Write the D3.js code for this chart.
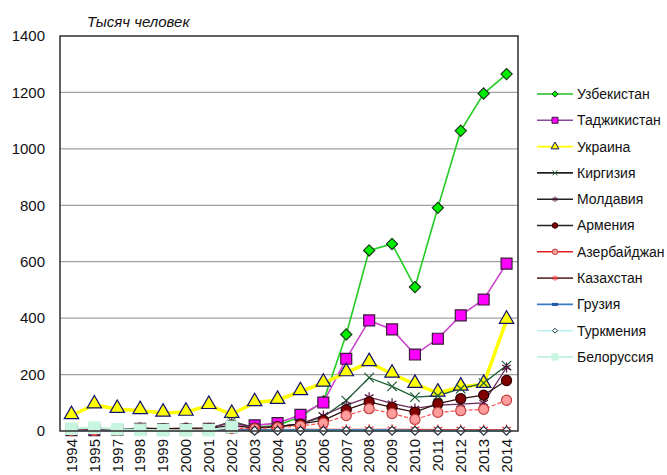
<!DOCTYPE html>
<html lang="ru">
<head>
    <meta charset="UTF-8">
    <title>Тысяч человек</title>
    <style>
        html, body {
            margin: 0;
            padding: 0;
            background-color: #fff;
            font-family: Arial, 'Liberation Sans', sans-serif;
        }
    </style>
</head>
<body>
    <div id="chart"></div>
    <script src="https://d3js.org/d3.v7.min.js"></script>
    <script>
        // DATA
        const years = ["1994", "1995", "1997", "1998", "1999", "2000", "2001", "2002", "2003", "2004",
                       "2005", "2006", "2007", "2008", "2009", "2010", "2011", "2012", "2013", "2014"];
        const yTicks = [0, 200, 400, 600, 800, 1000, 1200, 1400];
        const seriesNames = ["Узбекистан", "Таджикистан", "Украина", "Киргизия", "Молдавия", "Армения",
                             "Азербайджан", "Казахстан", "Грузия", "Туркмения", "Белоруссия"];

        const uzbekistan = [null, null, null, null, null, null, null, null, 12, 20, 50, 105, 342, 640, 663, 510, 791, 1064, 1196, 1265];
        const tajikistan = [3, 3, 4, 8, 6, 5, 8, 14, 20, 28, 57, 101, 256, 392, 360, 271, 327, 410, 466, 593];
        const ukraine = [55, 93, 77, 73, 64, 67, 91, 59, 101, 109, 140, 170, 207, 243, 202, 166, 135, 156, 166, 393];
        const kyrgyzstan = [4, 5, 4, 6, 5, 6, 8, 35, 12, 15, 25, 50, 108, 189, 158, 120, 125, 150, 170, 232];
        const moldova = [3, 4, 5, 10, 7, 8, 10, 30, 12, 15, 25, 55, 92, 120, 98, 80, 92, 95, 100, 225];
        const armenia = [5, 4, 6, 10, 8, 10, 9, 20, 10, 15, 25, 38, 75, 103, 84, 67, 97, 115, 127, 179];
        const azerbaijan = [2, 2, 3, 4, 4, 5, 6, 10, 8, 12, 18, 28, 55, 79, 62, 41, 66, 72, 77, 109];
        const kazakhstan = [3, 3, 3, 4, 4, 4, 5, 6, 5, 5, 6, 6, 6, 6, 6, 6, 5, 5, 5, 5];
        const georgia = [2, 2, 2, 2, 2, 2, 2, 3, 3, 3, 3, 3, 3, 3, 3, 2, null, null, null, null];
        const turkmenia = [null, null, null, null, null, null, null, null, 1, 1, 1, 1, 1, 1, 1, 1, 1, 1, 1, 1];
        const belorussia = [8, 12, 6, 4, 3, 3, 3, 15, null, null, null, null, null, null, null, null, null, null, null, null];

        const seriesValues = [uzbekistan, tajikistan, ukraine, kyrgyzstan, moldova, armenia,
                              azerbaijan, kazakhstan, georgia, turkmenia, belorussia];

        // LOOK OF EACH SERIES
        const diamond = d3.symbolDiamond2 || d3.symbolDiamond;
        const styles = [
            {line: "#22cc22", width: 1.6, symbol: diamond, size: 80, fill: "#00ee00", stroke: "#1a3a1a", legLine: "#22bb22"},
            {line: "#cc44cc", width: 1.6, symbol: d3.symbolSquare, size: 120, fill: "#ff00ff", stroke: "#3a1a3a", legLine: "#8a4a9a"},
            {line: "#ffff00", width: 3.5, symbol: d3.symbolTriangle, size: 90, fill: "#ffff00", stroke: "#101070", legLine: "#ffff00"},
            {line: "#1e5e36", width: 1.3, symbol: d3.symbolX, size: 60, fill: "none", stroke: "#1e5e36", legLine: "#222"},
            {line: "#6a2a5a", width: 1.3, symbol: d3.symbolAsterisk, size: 70, fill: "none", stroke: "#5a1040", legLine: "#222"},
            {line: "#301010", width: 1.3, symbol: d3.symbolCircle, size: 80, fill: "#800000", stroke: "#300000", legLine: "#222"},
            {line: "#ff5050", width: 1.2, dash: "4,2", symbol: d3.symbolCircle, size: 80, fill: "#ff9c9c", stroke: "#c04040", legLine: "#e02020"},
            {line: "#ee2020", width: 1.3, symbol: d3.symbolAsterisk, size: 70, fill: "none", stroke: "#ff3030", legLine: "#6a3a3a"},
            {line: "#2a7ac8", width: 1.6, symbol: null, size: 0, fill: "none", stroke: "#2a7ac8", legLine: "#3a7ac8"},
            {line: "#30c8e0", width: 2, symbol: diamond, size: 50, fill: "#ffffff", stroke: "#203040", legLine: "#b8f0f0"},
            {line: "#b8f0d8", width: 2, symbol: d3.symbolSquare, size: 130, fill: "#c8f5e0", stroke: "#c8f5e0", legLine: "#b8f0d8"}
        ];

        const W = 667, H = 475;
        const plot = {left: 60, right: 518, top: 36, bottom: 431};

        const svg = d3.select("#chart")
            .append("svg")
            .attr("width", W)
            .attr("height", H)
            .style("display", "block");

        const x = d3.scaleBand().domain(years).range([plot.left, plot.right]);
        const y = d3.scaleLinear().domain([0, 1400]).range([plot.bottom, plot.top]);
        const cx = (d) => x(d) + x.bandwidth() / 2;

        // GRIDLINES
        svg.append("g")
            .selectAll("line")
            .data(yTicks.filter(t => t > 0 && t < 1400))
            .enter()
            .append("line")
            .attr("x1", plot.left)
            .attr("x2", plot.right)
            .attr("y1", d => y(d))
            .attr("y2", d => y(d))
            .attr("stroke", "#a0a0a0")
            .attr("stroke-width", 1.3);

        // Y AXIS
        const yAxis = d3.axisLeft(y).tickValues(yTicks).tickFormat(d3.format("d")).tickSize(0).tickPadding(15);
        svg.append("g")
            .attr("transform", `translate(${plot.left}, 0)`)
            .call(yAxis)
            .call(g => g.select(".domain").remove())
            .selectAll("text")
            .attr("font-size", 15)
            .attr("font-family", "Arial, 'Liberation Sans', sans-serif")
            .attr("fill", "#111");

        // X AXIS (labels read bottom-to-top)
        const xAxis = d3.axisBottom(x).tickSize(0).tickPadding(0);
        svg.append("g")
            .attr("transform", `translate(0, ${plot.bottom})`)
            .call(xAxis)
            .call(g => g.select(".domain").remove())
            .selectAll("text")
            .attr("font-size", 15)
            .attr("font-family", "Arial, 'Liberation Sans', sans-serif")
            .attr("fill", "#111")
            .attr("text-anchor", "end")
            .attr("dy", "0.35em")
            .attr("transform", "translate(0, 8) rotate(-90)")
            .attr("x", 0)
            .attr("y", 0);

        // SERIES LINES
        const line = d3.line()
            .defined(d => d.v !== null)
            .x(d => cx(d.year))
            .y(d => y(d.v));

        const seriesData = seriesValues.map(vals => years.map((yr, i) => ({year: yr, v: vals[i]})));

        seriesData.forEach((pts, s) => {
            const st = styles[s];
            svg.append("path")
                .datum(pts)
                .attr("d", line)
                .attr("fill", "none")
                .attr("stroke", st.line)
                .attr("stroke-width", st.width)
                .attr("stroke-dasharray", st.dash || null);
        });

        // SERIES MARKERS
        seriesData.forEach((pts, s) => {
            const st = styles[s];
            if (!st.symbol) return;
            svg.append("g")
                .selectAll("path")
                .data(pts.filter(d => d.v !== null))
                .enter()
                .append("path")
                .attr("d", d3.symbol().type(st.symbol).size(st.size))
                .attr("transform", d => `translate(${cx(d.year)}, ${y(d.v) + (st.symbol === d3.symbolTriangle ? -1 : 0)})`)
                .attr("fill", st.fill)
                .attr("stroke", st.stroke)
                .attr("stroke-width", 1.2);
        });

        // PLOT FRAME
        svg.append("rect")
            .attr("x", plot.left)
            .attr("y", plot.top)
            .attr("width", plot.right - plot.left)
            .attr("height", plot.bottom - plot.top)
            .attr("fill", "none")
            .attr("stroke", "#3a3a3a")
            .attr("stroke-width", 1.6);

        // TITLE
        svg.append("text")
            .attr("x", 87)
            .attr("y", 27)
            .attr("font-size", 15)
            .attr("font-style", "italic")
            .attr("font-family", "Arial, 'Liberation Sans', sans-serif")
            .attr("fill", "#111")
            .text("Тысяч человек");

        // LEGEND
        const legend = svg.append("g");
        seriesNames.forEach((name, i) => {
            const st = styles[i];
            const ly = 94 + i * 26.3;
            legend.append("line")
                .attr("x1", 537)
                .attr("x2", 573)
                .attr("y1", ly)
                .attr("y2", ly)
                .attr("stroke", st.legLine)
                .attr("stroke-width", 1.6);
            if (st.symbol) {
                legend.append("path")
                    .attr("d", d3.symbol().type(st.symbol).size(st.size * 0.3))
                    .attr("transform", `translate(555, ${ly})`)
                    .attr("fill", st.fill)
                    .attr("stroke", st.stroke)
                    .attr("stroke-width", 1);
            } else {
                legend.append("line")
                    .attr("x1", 552).attr("x2", 558)
                    .attr("y1", ly).attr("y2", ly)
                    .attr("stroke", "#1a5aa8")
                    .attr("stroke-width", 3);
            }
            legend.append("text")
                .attr("x", 577)
                .attr("y", ly)
                .attr("dy", "0.35em")
                .attr("font-size", 14)
                .attr("font-family", "Arial, 'Liberation Sans', sans-serif")
                .attr("fill", "#111")
                .text(name);
        });
    </script>
</body>
</html>
